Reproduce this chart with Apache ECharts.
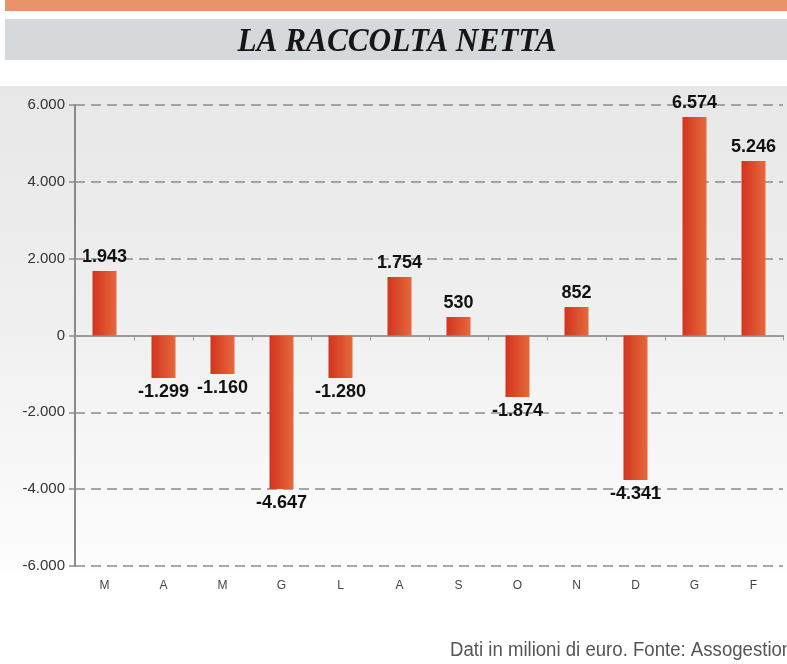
<!DOCTYPE html>
<html>
<head>
<meta charset="utf-8">
<script src="https://cdn.jsdelivr.net/npm/echarts@6/dist/echarts.min.js"></script>
<style>html,body{margin:0;padding:0;background:#fff}#c{width:787px;height:664px}</style>
</head>
<body>
<div id="c"></div>
<script>
var categories = ['M','A','M','G','L','A','S','O','N','D','G','F'];
// bar heights as drawn in the picture (milioni di euro)
var barValues = [1680, -1107, -1003, -3997, -1107, 1523, 482, -1602, 742, -3763, 5690, 4544];
// printed value labels
var labelTexts = ['1.943','-1.299','-1.160','-4.647','-1.280','1.754','530','-1.874','852','-4.341','6.574','5.246'];
var yTicks = [-6000, -4000, -2000, 0, 2000, 4000, 6000];
var titleText = 'LA RACCOLTA NETTA';
var footerText = 'Dati in milioni di euro. Fonte: Assogestioni';

function fmt(v){
  var s = Math.abs(v).toString();
  if (s.length > 3) s = s.slice(0, s.length-3) + '.' + s.slice(s.length-3);
  return (v < 0 ? '-' : '') + s;
}

var barColor = new echarts.graphic.LinearGradient(0,0,1,0,[
  {offset:0,color:'#d2341f'},{offset:1,color:'#e5693c'}
]);

var data = barValues.map(function(v,i){
  return {
    value: v,
    label: {
      show: true,
      position: v >= 0 ? 'top' : 'bottom',
      distance: 5,
      formatter: labelTexts[i]
    }
  };
});

var chart = echarts.init(document.getElementById('c'), null, {renderer:'canvas'});
chart.setOption({
  animation: false,
  backgroundColor: '#ffffff',
  graphic: [
    {type:'rect', z:-10, shape:{x:5,y:0,width:782,height:11}, style:{fill:'#e8936a'}},
    {type:'rect', z:-10, shape:{x:5,y:19,width:782,height:41}, style:{fill:'#d6d9dc'}},
    {type:'text', z:5, x:397, y:42, scaleX:0.92,
      style:{text:titleText, font:'italic bold 34px "Liberation Serif", "DejaVu Serif", serif', fill:'#161616',
        textAlign:'center', textVerticalAlign:'middle'}},
    {type:'rect', z:-10, shape:{x:0,y:86,width:787,height:485},
      style:{fill:new echarts.graphic.LinearGradient(0,0,0,1,[
        {offset:0,color:'#e7e7e7'},{offset:0.5,color:'#f0f0f0'},{offset:1,color:'#fdfdfd'}])}},
    {type:'text', z:5, x:450, y:650, scaleX:0.93,
      style:{text:footerText, font:'20px "Liberation Sans", Arial, sans-serif', fill:'#555555',
        textAlign:'left', textVerticalAlign:'middle'}}
  ],
  grid: {left:75, right:4, top:105, bottom:98, containLabel:false},
  xAxis: [
    {
      type:'category', data:categories, position:'bottom',
      axisLine:{show:true, onZero:true, lineStyle:{color:'#9a9a9a', width:2}},
      axisTick:{show:true, length:5, lineStyle:{color:'#9a9a9a', width:1}},
      axisLabel:{show:false},
      splitLine:{show:false}
    },
    {
      type:'category', data:categories, position:'bottom',
      axisLine:{show:false, onZero:false},
      axisTick:{show:false},
      axisLabel:{show:true, margin:14, color:'#444', fontSize:12, fontFamily:'"Liberation Sans", Arial, sans-serif'},
      splitLine:{show:false}
    }
  ],
  yAxis: {
    type:'value', min:-6000, max:6000, interval:2000,
    axisLine:{show:true, lineStyle:{color:'#8a8a8a', width:2}},
    axisTick:{show:true, length:6, lineStyle:{color:'#8a8a8a', width:1.5}},
    axisLabel:{margin:10, color:'#333', fontSize:15, fontFamily:'"Liberation Sans", Arial, sans-serif',
      formatter:function(v){ return yTicks.indexOf(v) >= 0 ? fmt(v) : ''; }},
    splitLine:{show:true, lineStyle:{color:'#8c8c8c', width:1.5, type:[10,6]}}
  },
  series: [{
    type:'bar', xAxisIndex:0, data:data, barWidth:24,
    itemStyle:{color:barColor},
    label:{color:'#111', fontSize:18, fontWeight:'bold', fontFamily:'"Liberation Sans", Arial, sans-serif'}
  }]
});
</script>
</body>
</html>
